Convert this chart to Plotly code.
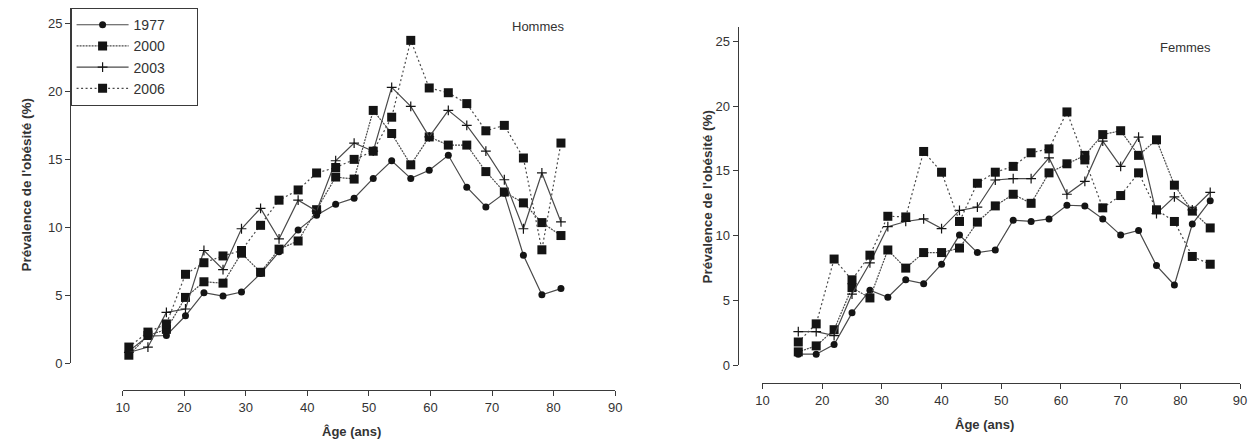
import plotly.graph_objects as go

W, H = 1253, 447

# Age-group midpoints (years)
ages_hommes = [11.0, 14.1, 17.1, 20.2, 23.2, 26.3, 29.3, 32.4, 35.4, 38.5, 41.5, 44.6,
               47.6, 50.7, 53.7, 56.8, 59.8, 62.9, 65.9, 69.0, 72.0, 75.1, 78.1, 81.2]
ages_femmes = [16, 19, 22, 25, 28, 31, 34, 37, 40, 43, 46, 49,
               52, 55, 58, 61, 64, 67, 70, 73, 76, 79, 82, 85]

# Obesity prevalence (%) - men
hommes_1977 = [0.9, 2.0, 2.05, 3.5, 5.2, 4.95, 5.25, 6.6, 8.2, 9.8, 10.9, 11.7,
               12.15, 13.6, 14.9, 13.6, 14.2, 15.3, 12.95, 11.5, 12.5, 7.95, 5.05, 5.5]
hommes_2000 = [0.6, 2.05, 2.5, 4.85, 6.0, 5.9, 8.1, 6.7, 8.4, 9.0, 11.3, 13.7,
               13.55, 18.6, 16.9, 14.6, 16.65, 16.05, 16.05, 14.1, 12.6, 11.8, 10.35, 9.4]
hommes_2003 = [0.8, 1.2, 3.75, 4.0, 8.3, 6.9, 9.9, 11.4, 9.15, 12.0, 11.2, 14.9,
               16.2, 15.6, 20.3, 18.9, 16.65, 18.6, 17.5, 15.6, 13.5, 9.9, 14.0, 10.4]
hommes_2006 = [1.2, 2.3, 2.9, 6.55, 7.4, 7.9, 8.3, 10.15, 12.0, 12.75, 14.0, 14.4,
               15.0, 15.6, 18.1, 23.75, 20.25, 19.9, 19.1, 17.1, 17.5, 15.1, 8.35, 16.2]

# Obesity prevalence (%) - women
femmes_1977 = [0.86, 0.86, 1.6, 4.05, 5.8, 5.25, 6.6, 6.3, 7.8, 10.05, 8.7, 8.9,
               11.2, 11.1, 11.3, 12.35, 12.3, 11.3, 10.05, 10.4, 7.7, 6.2, 10.9, 12.7]
femmes_2000 = [1.04, 1.5, 2.75, 6.0, 5.2, 8.9, 7.5, 8.7, 8.7, 9.05, 11.05, 12.3,
               13.2, 12.5, 14.85, 15.55, 16.2, 17.8, 18.1, 16.2, 17.4, 13.9, 11.9, 10.6]
femmes_2003 = [2.6, 2.6, 2.3, 5.5, 7.9, 10.7, 11.1, 11.3, 10.55, 11.95, 12.2, 14.3,
               14.4, 14.4, 16.0, 13.2, 14.2, 17.3, 15.35, 17.6, 11.7, 13.0, 12.0, 13.35]
femmes_2006 = [1.8, 3.2, 8.2, 6.6, 8.5, 11.5, 11.45, 16.5, 14.9, 11.1, 14.05, 14.9,
               15.35, 16.4, 16.7, 19.55, 15.85, 12.15, 13.1, 14.85, 12.0, 11.1, 8.4, 7.8]

years = ["1977", "2000", "2003", "2006"]
x_ticks = [10, 20, 30, 40, 50, 60, 70, 80, 90]
y_ticks = [0, 5, 10, 15, 20, 25]

LINE = "#4a4a4a"
MARK = "#141414"
FONT = "Liberation Sans, Arial, sans-serif"

styles = {
    "1977": dict(line=dict(color=LINE, width=1.2, dash="solid"),
                 marker=dict(symbol="circle", size=7, color=MARK)),
    "2000": dict(line=dict(color=LINE, width=1.2, dash="2px,1px"),
                 marker=dict(symbol="square", size=9, color=MARK)),
    "2003": dict(line=dict(color=LINE, width=1.2, dash="solid"),
                 marker=dict(symbol="cross-thin", size=7, color=MARK,
                             line=dict(color=MARK, width=1.2))),
    "2006": dict(line=dict(color=LINE, width=1.2, dash="2px,2.5px"),
                 marker=dict(symbol="square", size=9, color=MARK)),
}

fig = go.Figure()

panels = [
    ("x", "y", ages_hommes, [hommes_1977, hommes_2000, hommes_2003, hommes_2006], True),
    ("x2", "y2", ages_femmes, [femmes_1977, femmes_2000, femmes_2003, femmes_2006], False),
]
PAD = "\u00a0" * 7  # extra room on the right of the legend box
for xa, ya, ages, series, show in panels:
    for year, vals in zip(years, series):
        fig.add_trace(go.Scatter(
            x=ages, y=vals, mode="lines+markers", name=year + PAD,
            xaxis=xa, yaxis=ya, showlegend=show, cliponaxis=False,
            **styles[year]))


def px_x(p):
    return p / W


def px_y(p):
    return 1 - p / H


axis_common = dict(
    showline=True, linecolor="#3a3a3a", linewidth=1.3,
    ticks="outside", ticklen=5, tickwidth=1.3, tickcolor="#3a3a3a",
    showgrid=False, zeroline=False,
    tickfont=dict(family=FONT, size=13, color="#333333"),
)

fig.update_layout(
    width=W, height=H,
    margin=dict(l=0, r=0, t=0, b=0),
    paper_bgcolor="white", plot_bgcolor="white",
    font=dict(family=FONT, color="#333333"),
    # men panel
    xaxis=dict(domain=[px_x(117), px_x(615)], range=[10, 90], tickvals=x_ticks,
               anchor="free", position=px_y(397), **axis_common),
    yaxis=dict(domain=[px_y(370), px_y(8)], range=[0, 26.14], tickvals=y_ticks,
               anchor="free", position=px_x(64), **axis_common),
    # women panel
    xaxis2=dict(domain=[px_x(764), px_x(1247)], range=[10, 90], tickvals=x_ticks,
                anchor="free", position=px_y(390), **axis_common),
    yaxis2=dict(domain=[px_y(372), px_y(27)], range=[0, 26.14], tickvals=y_ticks,
                anchor="free", position=px_x(739), **axis_common),
    legend=dict(x=px_x(64), y=px_y(8), xanchor="left", yanchor="top",
                bordercolor="#3a3a3a", borderwidth=1.3, bgcolor="white",
                font=dict(family=FONT, size=14, color="#333333"),
                itemwidth=52, tracegroupgap=0),
)

ann = [
    dict(text="Hommes", x=px_x(537), y=px_y(27), size=13, bold=False, angle=0),
    dict(text="Femmes", x=px_x(1192), y=px_y(48), size=13, bold=False, angle=0),
    dict(text="Âge (ans)", x=px_x(348), y=px_y(439), size=13, bold=True, angle=0),
    dict(text="Âge (ans)", x=px_x(989), y=px_y(432), size=13, bold=True, angle=0),
    dict(text="Prévalence de l'obésité (%)", x=px_x(20), y=px_y(188), size=13.5, bold=True, angle=-90),
    dict(text="Prévalence de l'obésité (%)", x=px_x(708), y=px_y(200), size=13.5, bold=True, angle=-90),
]
for a in ann:
    fig.add_annotation(
        text=f"<b>{a['text']}</b>" if a["bold"] else a["text"],
        x=a["x"], y=a["y"], xref="paper", yref="paper",
        xanchor="center", yanchor="middle", showarrow=False, textangle=a["angle"],
        font=dict(family=FONT, size=a["size"], color="#333333"),
    )

fig.write_html("out.html")
